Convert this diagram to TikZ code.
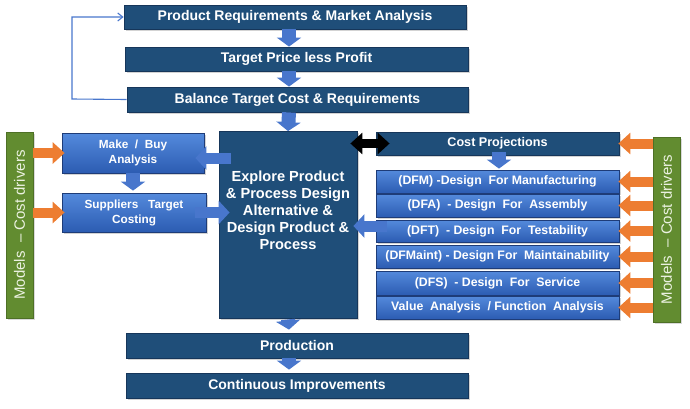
\documentclass[tikz,border=0pt]{standalone}
\usepackage{fontspec}
\setmainfont{Liberation Sans}
\usetikzlibrary{arrows.meta,shadows}

\definecolor{darkbox}{RGB}{31,78,121}
\definecolor{darkedge}{RGB}{22,54,90}
\definecolor{lightA}{RGB}{84,138,220}
\definecolor{lightB}{RGB}{44,92,178}
\definecolor{lightedge}{RGB}{30,60,120}
\definecolor{arrowblue}{RGB}{72,118,204}
\definecolor{bargreen}{RGB}{98,140,48}
\definecolor{bartext}{RGB}{236,242,226}
\definecolor{orangeA}{RGB}{237,125,49}

\tikzset{
  darkbox/.style={draw=darkedge, line width=0.8pt, fill=darkbox, text=white,
    inner sep=0pt, align=center,
    drop shadow={shadow xshift=1.5pt, shadow yshift=-1.5pt, opacity=0.35}},
  bigbox/.style={darkbox, font=\bfseries\fontsize{14}{16}\selectfont},
  lightbox/.style={draw=lightedge, line width=0.8pt, top color=lightA, bottom color=lightB,
    text=white, inner sep=0pt, align=center,
    drop shadow={shadow xshift=1.5pt, shadow yshift=-1.5pt, opacity=0.35},
    font=\bfseries\fontsize{12.3}{15}\selectfont},
  greenbar/.style={fill=bargreen, draw=bargreen!80!black, inner sep=0pt,
    drop shadow={shadow xshift=1.5pt, shadow yshift=-1.5pt, opacity=0.3}},
  bluearrow/.style={draw=arrowblue, line width=14pt, -{Triangle[length=9pt,width=24pt]}},
  hbluearrow/.style={draw=arrowblue, line width=11pt, -{Triangle[length=11pt,width=23pt]}},
  orangearrow/.style={draw=orangeA, line width=10pt, -{Triangle[length=12pt,width=21pt]}},
  blackarrow/.style={draw=black, line width=9pt, {Triangle[length=12pt,width=21pt]}-{Triangle[length=12pt,width=21pt]}},
  feedback/.style={draw=arrowblue, line width=1.1pt, -{Straight Barb[length=5pt,width=8pt]}}
}

\begin{document}
\begin{tikzpicture}[x=1pt,y=-1pt]
\useasboundingbox (0,0) rectangle (690,408);

% top chain
\node[bigbox, minimum width=342pt, minimum height=24pt] (req) at (295,17) {Product Requirements \& Market Analysis};
\node[bigbox, minimum width=343pt, minimum height=24pt] (price) at (296.5,59) {Target Price less Profit};
\node[bigbox, minimum width=341pt, minimum height=25pt] (balance) at (297.5,99.5) {Balance Target Cost \& Requirements};

% central
\node[darkbox, font=\bfseries\fontsize{14.6}{17}\selectfont, minimum width=138pt, minimum height=187pt] (explore) at (288,224.5)
  {Explore Product\\\& Process Design\\Alternative \&\\Design Product \&\\Process\\[12pt]};

% bottom
\node[bigbox, minimum width=342pt, minimum height=25pt] (prod) at (297,345.5) {Production};
\node[bigbox, minimum width=342pt, minimum height=25pt] (ci) at (297,385.5) {Continuous Improvements};

% left side
\node[lightbox, font=\bfseries\fontsize{11.8}{15}\selectfont, minimum width=142pt, minimum height=40pt] (make) at (133,153) {Make~~/~~Buy\\Analysis};
\node[lightbox, font=\bfseries\fontsize{11.8}{15}\selectfont, minimum width=144pt, minimum height=39pt] (supp) at (134,212.5) {Suppliers~~~Target\\Costing};
\node[greenbar, minimum width=27pt, minimum height=186pt] (lgreen) at (19.5,225) {};
\node[rotate=90, text=bartext, font=\fontsize{15}{17}\selectfont] (ltext) at (lgreen.center) {Models~~–~Cost drivers};

% right side
\node[darkbox, font=\bfseries\fontsize{12.6}{14}\selectfont, minimum width=243pt, minimum height=23pt] (cost) at (497.5,143.5) {Cost Projections};
\node[lightbox, minimum width=243pt, minimum height=23pt] (dfm) at (497.5,181.5) {(DFM) -Design~ For Manufacturing};
\node[lightbox, minimum width=243pt, minimum height=23pt] (dfa) at (497.5,205.5) {(DFA)~ - Design~ For~ Assembly};
\node[lightbox, minimum width=243pt, minimum height=22pt] (dft) at (497.5,231) {(DFT)~ - Design~ For~ Testability};
\node[lightbox, minimum width=243pt, minimum height=23pt] (dfmaint) at (497.5,256.5) {(DFMaint) - Design For~ Maintainability};
\node[lightbox, minimum width=243pt, minimum height=24pt] (dfs) at (497.5,283) {(DFS)~ - Design~ For~ Service};
\node[lightbox, minimum width=243pt, minimum height=23pt] (va) at (497.5,307.5) {Value~ Analysis~ / Function~ Analysis};
\node[greenbar, minimum width=27pt, minimum height=185pt] (rgreen) at (666.5,229.5) {};
\node[rotate=90, text=bartext, font=\fontsize{15}{17}\selectfont] (rtext) at (rgreen.center) {Models~~–~Cost drivers};

% feedback loop
\coordinate (fbL) at (72,99);
\draw[feedback] (balance.west) -- (fbL) -- (fbL |- req.west) -- (req.west);

% vertical block arrows
\draw[bluearrow] ([xshift=-6pt]req.south) -- ([xshift=-6pt]req.south |- price.north);
\draw[bluearrow] ([xshift=-7.5pt]price.south) -- ([xshift=-7.5pt]price.south |- balance.north);
\draw[bluearrow] ([xshift=-8.5pt]balance.south) -- ([yshift=-0.5pt]explore.north);
\draw[bluearrow] ([yshift=-1pt]explore.south) -- ([xshift=-8pt,yshift=3pt]prod.north);
\draw[bluearrow] ([xshift=-8pt]prod.south) -- ([xshift=-8pt,yshift=3pt]ci.north);
\draw[bluearrow] (make.south) -- ([xshift=-1pt,yshift=2pt]supp.north);
\draw[bluearrow, shorten <=-3pt] ([xshift=1.5pt]cost.south) -- ([xshift=1.5pt,yshift=1pt]dfm.north);

% horizontal block arrows
\draw[hbluearrow, shorten <=-12pt, shorten >=-9pt] ([yshift=-5pt]explore.west |- make.east) -- ([yshift=-5pt]make.east);
\draw[hbluearrow, shorten <=-11pt, shorten >=-11pt] (supp.east) -- (explore.west |- supp.east);
\draw[hbluearrow, shorten <=-11pt, shorten >=-4pt] ([yshift=5pt]dft.west) -- ([yshift=5pt]explore.east |- dft.west);

% black double arrow
\draw[blackarrow, shorten <=-7pt, shorten >=-14pt] (explore.east |- cost.west) -- (cost.west);

% orange arrows
\draw[orangearrow, shorten >=-3pt] (lgreen.east |- make.west) -- (make.west);
\draw[orangearrow, shorten >=-3pt] (lgreen.east |- supp.west) -- (supp.west);
\foreach \b in {cost,dfm,dfa,dft,dfmaint,dfs,va}{
  \draw[orangearrow, shorten >=-1pt] (rgreen.west |- \b.east) -- (\b.east);
}
\end{tikzpicture}
\end{document}
